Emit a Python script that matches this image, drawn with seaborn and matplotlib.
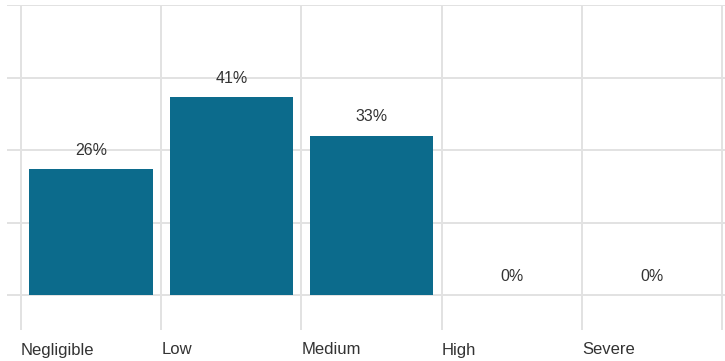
import matplotlib
matplotlib.use("Agg")
import matplotlib.pyplot as plt
import seaborn as sns
import pandas as pd

categories = ["Negligible", "Low", "Medium", "High", "Severe"]
values = [26, 41, 33, 0, 0]
labels = ["26%", "41%", "33%", "0%", "0%"]

sns.set_theme(style="white")
plt.rcParams['font.family'] = ['Liberation Sans Narrow', 'Liberation Sans', 'DejaVu Sans']

fig = plt.figure(figsize=(7.25, 3.61), dpi=100)
ax = fig.add_axes([7/725, 1-330/361, 1-7/725, (330-5)/361])

df = pd.DataFrame({"cat": categories, "val": values})
sns.barplot(data=df, x="cat", y="val", color="#0c6b8c", saturation=1,
            width=0.88, linewidth=0, ax=ax, zorder=3)

ax.set_xlim(-0.6, 4.52)
ax.set_ylim(-7.2, 60)
ax.set_yticks([0, 15, 30, 45, 60])
ax.set_yticklabels([])
ax.set_xticks([i - 0.5 for i in range(6)])
ax.set_xticklabels(categories + [""], ha="left", fontsize=12, color="#333333")
ax.tick_params(axis="both", length=0, pad=9)
ax.grid(True, color="#e2e2e2", linewidth=1.4, zorder=0)
ax.set_axisbelow(True)
for s in ax.spines.values():
    s.set_visible(False)
ax.set_xlabel("")
ax.set_ylabel("")

for i, (v, t) in enumerate(zip(values, labels)):
    ax.annotate(t, (i, v), xytext=(0, 8), textcoords="offset points",
                ha="center", va="bottom", fontsize=11.5, color="#333333")

fig.savefig("out.png", dpi=100)
